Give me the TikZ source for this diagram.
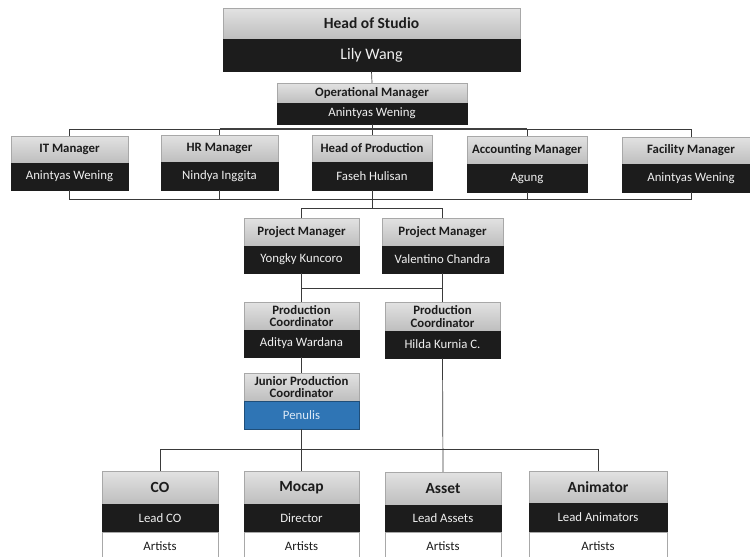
\documentclass[tikz,border=0pt]{standalone}
\usepackage{fontspec}
\setmainfont{Carlito}
\definecolor{gtop}{HTML}{E2E2E2}
\definecolor{gbot}{HTML}{BEBEBE}
\definecolor{gbd}{HTML}{A8A8A8}
\definecolor{blk}{HTML}{1C1C1C}
\definecolor{blu}{HTML}{2F75B5}
\definecolor{bluedge}{HTML}{1F4E79}
\definecolor{blutxt}{HTML}{DCE9F6}
\definecolor{lnc}{HTML}{3A3A3A}
\tikzset{
  hdr/.style={draw=gbd, line width=0.5pt, top color=gtop, bottom color=gbot, inner sep=0pt, align=center, text=blk, font=\fontsize{12.8}{13.8}\selectfont\bfseries},
  nm/.style={draw=blk, line width=0.5pt, fill=blk, inner sep=0pt, align=center, text=white!94!black, font=\fontsize{12.8}{13.8}\selectfont},
  bl/.style={draw=bluedge, line width=0.6pt, fill=blu, inner sep=0pt, align=center, text=blutxt, font=\fontsize{12.8}{13.8}\selectfont},
  wh/.style={draw=gbd, line width=0.5pt, fill=white, inner sep=0pt, align=center, text=blk, font=\fontsize{12.8}{13.8}\selectfont},
  ln/.style={draw=lnc, line width=0.7pt},
  busthick/.style={draw=black!75, line width=1.3pt}
}
% #1 name, #2 x1, #3 x2, #4 y1, #5 y2, #6 y3, #7 title, #8 person, #9 lower style
\newcommand\obox[9]{%
  \node[hdr, minimum width={(#3-#2)*1pt}, minimum height={(#5-#4)*1pt}] (#1t) at ({(#2+#3)/2},{(#4+#5)/2}) {#7};
  \node[#9, minimum width={(#3-#2)*1pt}, minimum height={(#6-#5)*1pt}] (#1n) at ({(#2+#3)/2},{(#5+#6)/2}) {#8};
}
\newcommand\bigtxt[1]{{\fontsize{15.5}{16}\selectfont #1}}
\begin{document}
\begin{tikzpicture}[x=1pt,y=-1pt]
\useasboundingbox (0,0) rectangle (750,557);
\clip (0,0) rectangle (750,557);
\fill[white] (0,0) rectangle (750,557);

% boxes
\obox{hs}{223}{520}{8}{39}{71}{\bigtxt{Head of Studio}}{\fontsize{16}{16}\selectfont Lily Wang}{nm}
\obox{om}{277}{467}{83}{103}{124}{Operational Manager}{Anintyas Wening}{nm}
\obox{it}{11}{128}{136}{163}{190}{IT Manager}{Anintyas Wening}{nm}
\obox{hr}{161}{278}{135}{162}{190}{HR Manager}{Nindya Inggita}{nm}
\obox{hp}{312}{432}{135}{162}{190}{Head of Production}{Faseh Hulisan}{nm}
\obox{ac}{467}{587}{136}{164}{192}{Accounting Manager}{Agung}{nm}
\obox{fm}{622}{760}{137}{164}{192}{Facility Manager}{Anintyas Wening}{nm}
\obox{pma}{244}{359}{218}{246}{273}{Project Manager}{Yongky Kuncoro}{nm}
\obox{pmb}{382}{503}{218}{246}{273}{Project Manager}{Valentino Chandra}{nm}
\obox{pca}{244}{359}{302}{330}{357}{Production\\[-1.5pt]Coordinator}{Aditya Wardana}{nm}
\obox{pcb}{385}{500}{302}{331}{358}{Production\\[-1.5pt]Coordinator}{Hilda Kurnia C.}{nm}
\obox{jp}{244}{359}{373}{401}{429}{Junior Production\\[-1.5pt]Coordinator}{Penulis}{bl}
\obox{co}{102}{218}{471}{504}{532}{\bigtxt{CO}}{Lead CO}{nm}
\obox{mo}{244}{359}{471}{504}{532}{\bigtxt{Mocap}}{Director}{nm}
\obox{as}{385}{501}{472}{505}{532}{\bigtxt{Asset}}{Lead Assets}{nm}
\obox{an}{529}{667}{471}{503}{532}{\bigtxt{Animator}}{Lead Animators}{nm}
\node[wh, minimum width=116pt, minimum height=28pt] (coa) at (160,546) {Artists};
\node[wh, minimum width=115pt, minimum height=28pt] (moa) at (301.5,546) {Artists};
\node[wh, minimum width=116pt, minimum height=28pt] (asa) at (443,546) {Artists};
\node[wh, minimum width=138pt, minimum height=28pt] (ana) at (598,546) {Artists};

% bus levels
\coordinate (ya) at (0,129);
\coordinate (yb) at (0,199);
\coordinate (yc) at (0,208);
\coordinate (yd) at (0,288);
\coordinate (ye) at (0,449);

% connectors
\draw[ln] (hsn.south) -- (omt.north);
\draw[ln] (omn.south) -- (hpt.north);
\draw[ln] (itt.north) -- (itt.north |- ya) -- (fmt.north |- ya) -- (fmt.north);
\draw[ln] (hrt.north) -- (hrt.north |- ya);
\draw[ln] (act.north) -- (act.north |- ya);
\draw[busthick] (hrt.north |- ya) -- (act.north |- ya);
\draw[ln] (itn.south) -- (itn.south |- yb) -- (fmn.south |- yb) -- (fmn.south);
\draw[ln] (hrn.south) -- (hrn.south |- yb);
\draw[ln] (acn.south) -- (acn.south |- yb);
\draw[ln] (hpn.south) -- (hpn.south |- yc);
\draw[ln] (pmat.north) -- (pmat.north |- yc) -- (pmbt.north |- yc) -- (pmbt.north);
\draw[ln] (pman.south) -- (pcat.north);
\draw[ln] (pmbn.south) -- (pcbt.north);
\draw[ln] (pman.south |- yd) -- (pmbn.south |- yd);
\draw[ln] (pcan.south) -- (jpt.north);
\draw[ln] (jpn.south) -- (mot.north);
\draw[ln] (pcbn.south) -- (ast.north);
\draw[ln] (cot.north) -- (cot.north |- ye) -- (ant.north |- ye) -- (ant.north);
\end{tikzpicture}
\end{document}
